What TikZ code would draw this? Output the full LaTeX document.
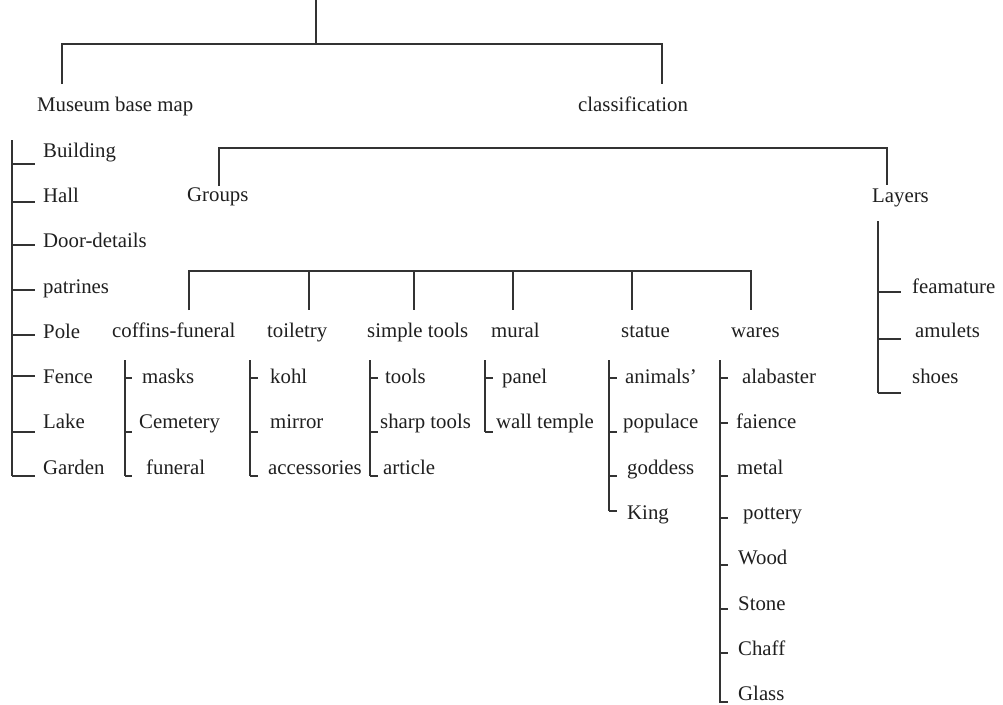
\documentclass[tikz,border=0pt]{standalone}
\usepackage{fontspec}
\setmainfont{Liberation Serif}
\begin{document}
\begin{tikzpicture}[x=1pt,y=-1pt,
  lbl/.style={anchor=base west,inner sep=0pt,font=\fontsize{20.8}{24}\selectfont,text=black!88},
  conn/.style={draw=black!80,line width=1.3pt,line cap=butt}]
\useasboundingbox[fill=white] (0,0) rectangle (1003,704);
% ---------- text nodes ----------
\node[lbl] (mbm) at (37,111) {Museum base map};
\node[lbl] (cls) at (578,111) {classification};
\node[lbl] (b1) at (43,157) {Building};
\node[lbl] (b2) at (43,202) {Hall};
\node[lbl] (b3) at (43,247) {Door-details};
\node[lbl] (b4) at (43,293) {patrines};
\node[lbl] (b5) at (43,338) {Pole};
\node[lbl] (b6) at (43,383) {Fence};
\node[lbl] (b7) at (43,428) {Lake};
\node[lbl] (b8) at (43,474) {Garden};
\node[lbl] (grp) at (187,201) {Groups};
\node[lbl] (lay) at (872,202) {Layers};
\node[lbl] (g1) at (112,337) {coffins-funeral};
\node[lbl] (g2) at (267,337) {toiletry};
\node[lbl] (g3) at (367,337) {simple tools};
\node[lbl] (g4) at (491,337) {mural};
\node[lbl] (g5) at (621,337) {statue};
\node[lbl] (g6) at (731,337) {wares};
\node[lbl] (c1) at (142,383) {masks};
\node[lbl] (c2) at (139,428) {Cemetery};
\node[lbl] (c3) at (146,474) {funeral};
\node[lbl] (t1) at (270,383) {kohl};
\node[lbl] (t2) at (270,428) {mirror};
\node[lbl] (t3) at (268,474) {accessories};
\node[lbl] (s1) at (385,383) {tools};
\node[lbl] (s2) at (380,428) {sharp tools};
\node[lbl] (s3) at (383,474) {article};
\node[lbl] (m1) at (502,383) {panel};
\node[lbl] (m2) at (496,428) {wall temple};
\node[lbl] (st1) at (625,383) {animals’};
\node[lbl] (st2) at (623,428) {populace};
\node[lbl] (st3) at (627,474) {goddess};
\node[lbl] (st4) at (627,519) {King};
\node[lbl] (w1) at (742,383) {alabaster};
\node[lbl] (w2) at (736,428) {faience};
\node[lbl] (w3) at (737,474) {metal};
\node[lbl] (w4) at (743,519) {pottery};
\node[lbl] (w5) at (738,564) {Wood};
\node[lbl] (w6) at (738,610) {Stone};
\node[lbl] (w7) at (738,655) {Chaff};
\node[lbl] (w8) at (738,700) {Glass};
\node[lbl] (l1) at (912,293) {feamature};
\node[lbl] (l2) at (915,337) {amulets};
\node[lbl] (l3) at (912,383) {shoes};
% ---------- connector coordinates ----------
\coordinate (root) at (316,0);
\coordinate (rootj) at (316,44);
\coordinate (mbmt) at (62,84);
\coordinate (clst) at (662,84);
\coordinate (grpt) at (219,186);
\coordinate (layt) at (887,185);
% top level
\draw[conn] (root) -- (rootj);
\draw[conn] (mbmt) |- (clst |- rootj) -- (clst);
% classification level
\draw[conn] (grpt) |- (layt |- 0,148) -- (layt);
% groups bus
\coordinate (bus1) at (189,271);
\coordinate (bus6) at (751,271);
\draw[conn] (189,310) |- (bus6) -- (751,310);
\foreach \x in {309,414,513,632} \draw[conn] (\x,271) -- (\x,310);
% left list
\draw[conn] (12,140) -- (12,476);
\foreach \y in {164,202,245,290,335,376,432,476} \draw[conn] (12,\y) -- (35,\y);
% coffins-funeral
\draw[conn] (125,360) -- (125,476);
\foreach \y in {378,432,476} \draw[conn] (125,\y) -- (132,\y);
% toiletry
\draw[conn] (250,360) -- (250,476);
\foreach \y in {378,432,476} \draw[conn] (250,\y) -- (258,\y);
% simple tools
\draw[conn] (370,360) -- (370,476);
\foreach \y in {378,432,476} \draw[conn] (370,\y) -- (378,\y);
% mural
\draw[conn] (485,360) -- (485,432);
\foreach \y in {378,432} \draw[conn] (485,\y) -- (493,\y);
% statue
\draw[conn] (609,360) -- (609,511);
\foreach \y in {378,432,476,511} \draw[conn] (609,\y) -- (617,\y);
% wares
\draw[conn] (720,360) -- (720,703);
\foreach \y in {378,423,476,518,565,609,653,702} \draw[conn] (720,\y) -- (728,\y);
% layers
\draw[conn] (878,221) -- (878,393);
\foreach \y in {292,339,393} \draw[conn] (878,\y) -- (901,\y);
\end{tikzpicture}
\end{document}
